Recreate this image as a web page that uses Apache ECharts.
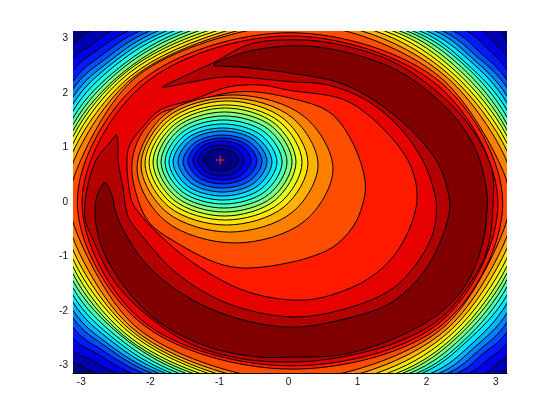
<!DOCTYPE html>
<html>
<head>
<meta charset="utf-8">
<script src="https://cdn.jsdelivr.net/npm/echarts@6/dist/echarts.min.js"></script>
<style>html,body{margin:0;padding:0;background:#fff}#c{width:560px;height:419px}</style>
</head>
<body>
<div id="c"></div>
<script>
// Axis limits and tick labels
var xLimit = 3.1416, yLimit = 3.1416;
var tickValues = [-3, -2, -1, 0, 1, 2, 3];
// Location of the minimum (red plus)
var minimumPoint = [-1.01, 0.77];

// Outer contours 1..16: where each crosses the frame
var topLeftX     = [-2.89,-2.58,-2.34,-2.17,-2.03,-1.91,-1.79,-1.68,-1.56,-1.45,-1.33,-1.20,-1.07,-0.93,-0.78,-0.64];
var topRightX    = [3.08,2.79,2.56,2.36,2.21,2.10,1.98,1.88,1.78,1.69,1.59,1.49,1.37,1.23,1.04,0.80];
var bottomLeftX  = [-2.82,-2.52,-2.30,-2.13,-2.01,-1.91,-1.81,-1.72,-1.62,-1.52,-1.42,-1.32,-1.20,-1.09,-0.94,-0.75];
var bottomRightX = [3.08,2.85,2.60,2.43,2.29,2.17,2.05,1.92,1.84,1.74,1.64,1.55,1.42,1.26,1.04,0.77];
var leftUpperY   = [2.90,2.63,2.41,2.22,2.08,1.93,1.80,1.67,1.54,1.42,1.31,1.20,1.07,0.92,0.72,0.40];
var leftLowerY   = [-2.94,-2.72,-2.50,-2.30,-2.13,-1.99,-1.84,-1.71,-1.58,-1.45,-1.32,-1.19,-1.05,-0.88,-0.66,-0.37];
var rightUpperY  = [2.94,2.67,2.43,2.24,2.10,1.95,1.82,1.69,1.56,1.43,1.32,1.21,1.08,0.94,0.74,0.37];
var rightLowerY  = [-3.05,-2.81,-2.59,-2.39,-2.21,-2.04,-1.86,-1.71,-1.56,-1.43,-1.31,-1.18,-1.03,-0.85,-0.63,-0.33];
// Their distance along the corner diagonals
var cornerTL = [3.02,2.88,2.79,2.71,2.65,2.60,2.56,2.52,2.47,2.44,2.40,2.38,2.35,2.31,2.28,2.26];
var cornerTR = [3.08,2.94,2.84,2.75,2.69,2.64,2.60,2.55,2.52,2.48,2.44,2.40,2.36,2.32,2.28,2.23];
var cornerBL = [3.01,2.89,2.79,2.72,2.66,2.62,2.57,2.53,2.49,2.45,2.43,2.40,2.36,2.33,2.30,2.26];
var cornerBR = [3.10,2.98,2.88,2.79,2.73,2.67,2.62,2.56,2.53,2.49,2.45,2.42,2.38,2.34,2.30,2.26];
// Their extent past the frame on the mid-lines
var topApex    = [4.31,4.12,3.98,3.86,3.78,3.70,3.65,3.58,3.53,3.48,3.43,3.39,3.34,3.30,3.24,3.17];
var bottomApex = [4.31,4.13,3.98,3.88,3.80,3.74,3.69,3.63,3.58,3.53,3.49,3.45,3.40,3.35,3.27,3.18];
var rightApex  = [4.37,4.19,4.04,3.92,3.83,3.75,3.68,3.61,3.57,3.51,3.46,3.42,3.37,3.31,3.23,3.15];
var leftApex   = [4.28,4.10,3.96,3.85,3.77,3.70,3.63,3.57,3.51,3.46,3.41,3.37,3.32,3.27,3.21,3.16];

// Outer contours 17, 18 (closed, just inside the frame)
var outer17 = [[0,3.11],[2.19,2.19],[3.08,0],[2.23,-2.23],[0,-3.07],[-2.19,-2.19],[-3.08,0],[-2.19,2.19]];
var outer18 = [[0,3.05],[2.14,2.14],[3.01,0],[2.19,-2.19],[0,-3.01],[-2.16,-2.16],[-3.01,0],[-2.14,2.14]];

// Ridge crescent, contour 19
var crescent19 = [[-1.85,2.11],[-1.55,2.30],[-1.11,2.56],[-0.58,2.90],[0,2.98],[0.6,2.92],[1.45,2.60],[2.08,2.08],[2.60,1.40],[2.92,0.60],[2.94,0],[2.85,-0.90],[2.55,-1.60],[2.16,-2.16],[1.50,-2.60],[0.60,-2.88],[0,-2.94],[-0.70,-2.88],[-1.45,-2.60],[-2.10,-2.05],[-2.55,-1.45],[-2.85,-0.70],[-2.97,-0.28],[-2.91,0.40],[-2.78,0.83],[-2.60,1.10],[-2.52,1.23],[-2.49,1.08],[-2.49,0.77],[-2.42,0.28],[-2.34,-0.28],[-2.13,-0.64],[-1.64,-1.31],[-0.91,-1.86],[0,-2.11],[0.72,-1.99],[1.45,-1.62],[1.84,-1.12],[2.07,-0.57],[2.12,-0.10],[2.10,0.12],[1.94,0.72],[1.60,1.35],[1.13,1.85],[0.55,2.15],[0,2.21],[-0.91,2.30],[-1.40,2.21]];
// Ridge crescent, contour 20
var crescent20 = [[-1.11,2.52],[-0.68,2.74],[-0.33,2.83],[0.14,2.87],[0.72,2.78],[1.45,2.48],[1.92,2.11],[2.42,1.51],[2.71,0.90],[2.85,0.17],[2.85,-0.20],[2.79,-0.75],[2.56,-1.49],[2.17,-2.04],[1.45,-2.54],[0.72,-2.81],[0,-2.85],[-0.43,-2.85],[-1.16,-2.67],[-1.88,-2.22],[-2.36,-1.62],[-2.71,-0.88],[-2.82,-0.28],[-2.79,0.13],[-2.68,0.35],[-2.58,0.13],[-2.50,-0.28],[-2.13,-1.07],[-1.64,-1.62],[-0.91,-2.08],[0,-2.30],[0.72,-2.17],[1.45,-1.86],[1.92,-1.31],[2.17,-0.75],[2.31,-0.15],[2.29,0.17],[2.14,0.72],[1.77,1.30],[1.24,1.85],[0.72,2.19],[0,2.37],[-0.36,2.43],[-0.72,2.48]];

// Inner contours, from 18 down to 1, around the minimum
var inner18 = [[0,2.05],[0.80,1.87],[1.37,1.32],[1.74,0.68],[1.84,0.10],[1.74,-0.46],[1.49,-1.01],[1.11,-1.43],[0.48,-1.75],[0,-1.80],[-0.68,-1.62],[-1.40,-1.12],[-1.92,-0.57],[-2.27,-0.05],[-2.32,0.17],[-2.36,0.77],[-2.32,1.05],[-2.13,1.38],[-1.88,1.69],[-1.40,1.88],[-0.91,2.11],[-0.43,2.15]];
var inner17 = [[1.09,0.35],[0.91,1.08],[0.58,1.64],[0,1.91],[-0.65,2.03],[-1.16,1.93],[-1.50,1.75],[-1.85,1.647],[-2.16,1.23],[-2.29,0.68],[-2.20,0.04],[-2.03,-0.39],[-1.64,-0.75],[-1.06,-1.12],[-0.72,-1.21],[-0.36,-1.19],[0,-1.11],[0.25,-1.03],[0.62,-0.83],[0.91,-0.46],[1.05,-0.05]];
var inner16 = [[0.622,0.607],[0.207,1.569],[-0.796,1.967],[-1.815,1.603],[-2.214,0.607],[-1.799,-0.355],[-0.796,-0.753],[0.207,-0.355]];
var inner15 = [[0.406,0.680],[0.031,1.551],[-0.875,1.912],[-1.78,1.558],[-2.156,0.680],[-1.781,-0.191],[-0.875,-0.552],[0.031,-0.191]];
var inner14 = [[0.260,0.717],[-0.085,1.523],[-0.919,1.857],[-1.745,1.512],[-2.098,0.717],[-1.753,-0.089],[-0.919,-0.423],[-0.085,-0.089]];
var inner13 = [[0.174,0.726],[-0.150,1.474],[-0.933,1.783],[-1.71,1.468],[-2.040,0.726],[-1.716,-0.022],[-0.933,-0.331],[-0.150,-0.022]];
var inner12 = [[0.087,0.735],[-0.216,1.437],[-0.948,1.728],[-1.675,1.422],[-1.983,0.735],[-1.680,0.033],[-0.948,-0.258],[-0.216,0.033]];
var inner11 = [[0.029,0.735],[-0.257,1.385],[-0.948,1.654],[-1.64,1.379],[-1.925,0.735],[-1.639,0.085],[-0.948,-0.184],[-0.257,0.085]];
var inner10 = [[-0.043,0.735],[-0.310,1.333],[-0.955,1.581],[-1.600,1.333],[-1.867,0.735],[-1.600,0.137],[-0.955,-0.111],[-0.310,0.137]];
var inner9  = [[-0.115,0.735],[-0.363,1.281],[-0.962,1.507],[-1.561,1.281],[-1.809,0.735],[-1.561,0.189],[-0.962,-0.037],[-0.363,0.189]];
var inner8  = [[-0.189,0.735],[-0.418,1.229],[-0.970,1.434],[-1.522,1.229],[-1.751,0.735],[-1.522,0.241],[-0.970,0.036],[-0.418,0.241]];
var inner7  = [[-0.261,0.735],[-0.471,1.177],[-0.977,1.360],[-1.483,1.177],[-1.693,0.735],[-1.483,0.293],[-0.977,0.110],[-0.471,0.293]];
var inner6  = [[-0.333,0.744],[-0.522,1.141],[-0.977,1.305],[-1.432,1.141],[-1.621,0.744],[-1.432,0.347],[-0.977,0.183],[-0.522,0.347]];
var inner5  = [[-0.405,0.744],[-0.572,1.088],[-0.977,1.231],[-1.382,1.088],[-1.549,0.744],[-1.382,0.400],[-0.977,0.257],[-0.572,0.400]];
var inner4  = [[-0.478,0.754],[-0.624,1.053],[-0.977,1.177],[-1.330,1.053],[-1.476,0.754],[-1.330,0.455],[-0.977,0.331],[-0.624,0.455]];
var inner3  = [[-0.564,0.763],[-0.687,1.016],[-0.984,1.121],[-1.281,1.016],[-1.404,0.763],[-1.281,0.510],[-0.984,0.405],[-0.687,0.510]];
var inner2  = [[-0.665,0.763],[-0.762,0.965],[-0.998,1.048],[-1.234,0.965],[-1.331,0.763],[-1.234,0.561],[-0.998,0.478],[-0.762,0.561]];
var inner1  = [[-0.752,0.772],[-0.824,0.915],[-0.998,0.974],[-1.172,0.915],[-1.244,0.772],[-1.172,0.629],[-0.998,0.570],[-0.824,0.629]];

// Jet colours of the 21 filled bands, low to high
var bandColors = ['#000080','#0000B3','#0000E6','#001AFF','#004DFF','#0080FF','#00B3FF','#00E6FF','#1AFFE6','#4DFFB3','#80FF80','#B3FF4D','#E6FF1A','#FFE600','#FFB300','#FF8000','#FF4D00','#FF1A00','#E60000','#B30000','#800000'];

function outerContour(k) {
  return [[0,topApex[k]],[topRightX[k],yLimit],[cornerTR[k],cornerTR[k]],[xLimit,rightUpperY[k]],
    [rightApex[k],0],[xLimit,rightLowerY[k]],[cornerBR[k],-cornerBR[k]],[bottomRightX[k],-yLimit],
    [0,-bottomApex[k]],[bottomLeftX[k],-yLimit],[-cornerBL[k],-cornerBL[k]],[-xLimit,leftLowerY[k]],
    [-leftApex[k],0],[-xLimit,leftUpperY[k]],[-cornerTL[k],cornerTL[k]],[topLeftX[k],yLimit]];
}

// Closed curve through the given pixel points (centripetal spline as Bezier path)
function curvePath(p) {
  var n = p.length, dist = [], tan = [], i;
  for (i = 0; i < n; i++) {
    var q = p[(i + 1) % n];
    dist[i] = Math.max(Math.pow(Math.hypot(q[0] - p[i][0], q[1] - p[i][1]), 0.5), 1e-3);
  }
  for (i = 0; i < n; i++) {
    var a = p[(i + n - 1) % n], b = p[i], c = p[(i + 1) % n], d0 = dist[(i + n - 1) % n], d1 = dist[i];
    tan[i] = [0, 1].map(function (j) {
      return (b[j] - a[j]) / d0 - (c[j] - a[j]) / (d0 + d1) + (c[j] - b[j]) / d1;
    });
  }
  var s = 'M' + p[0][0].toFixed(2) + ' ' + p[0][1].toFixed(2);
  for (i = 0; i < n; i++) {
    var nx = (i + 1) % n, h = dist[i] / 3;
    s += 'C' + (p[i][0] + tan[i][0] * h).toFixed(2) + ' ' + (p[i][1] + tan[i][1] * h).toFixed(2) + ' ' +
      (p[nx][0] - tan[nx][0] * h).toFixed(2) + ' ' + (p[nx][1] - tan[nx][1] * h).toFixed(2) + ' ' +
      p[nx][0].toFixed(2) + ' ' + p[nx][1].toFixed(2);
  }
  return s + 'Z';
}

// Painter's order: each filled region covers what is outside its contour
var layers = [{pts:[[-xLimit,yLimit],[xLimit,yLimit],[xLimit,-yLimit],[-xLimit,-yLimit]],band:0,flat:true}];
for (var k = 0; k < topLeftX.length; k++) layers.push({pts:outerContour(k),band:k+1});
layers.push({pts:outer17,band:17});
layers.push({pts:outer18,band:18});
layers.push({pts:crescent19,band:19});
layers.push({pts:crescent20,band:20});
[inner18,inner17,inner16,inner15,inner14,inner13,inner12,inner11,inner10,inner9,inner8,inner7,inner6,inner5,inner4,inner3,inner2,inner1]
  .forEach(function(p,i){ layers.push({pts:p,band:17-i}); });

var chart = echarts.init(document.getElementById('c'), null, {renderer:'canvas'});
var font = '"Liberation Sans", Arial, sans-serif';
chart.setOption({
  animation:false,
  backgroundColor:'#fff',
  grid:{left:73,top:31,width:434,height:342,containLabel:false},
  xAxis:{type:'value',min:-xLimit,max:xLimit,z:5,
    axisLine:{show:true,onZero:false,lineStyle:{color:'#000',width:1}},
    axisTick:{show:false},splitLine:{show:false},
    axisLabel:{customValues:tickValues,color:'#111',fontSize:10,fontFamily:font,margin:4,padding:[0,3,0,0],showMinLabel:true,showMaxLabel:true}},
  yAxis:{type:'value',min:-yLimit,max:yLimit,z:5,
    axisLine:{show:false,onZero:false},
    axisTick:{show:false},splitLine:{show:false},
    axisLabel:{customValues:tickValues,color:'#111',fontSize:10,fontFamily:font,margin:5,padding:[0,0,3,0],showMinLabel:true,showMaxLabel:true}},
  series:[
    {type:'custom',coordinateSystem:'cartesian2d',clip:true,silent:true,
     data:layers.map(function(l){return l.pts[0];}),encode:{x:0,y:1},
     renderItem:function(params,api){
       var l = layers[params.dataIndex];
       var pix = l.pts.map(function(p){return api.coord(p);});
       if (l.flat) return {type:'polygon',shape:{points:pix},style:{fill:bandColors[l.band]}};
       return {type:'path',shape:{pathData:curvePath(pix)},
         style:{fill:bandColors[l.band],stroke:'#000',lineWidth:1}};
     }},
    {type:'scatter',data:[minimumPoint],symbol:'path://M4 0h1v4h4v1h-4v4h-1v-4h-4v-1h4z',symbolSize:9,
     itemStyle:{color:'#ff3030',opacity:1},silent:true,z:10}
  ]
});
</script>
</body>
</html>
